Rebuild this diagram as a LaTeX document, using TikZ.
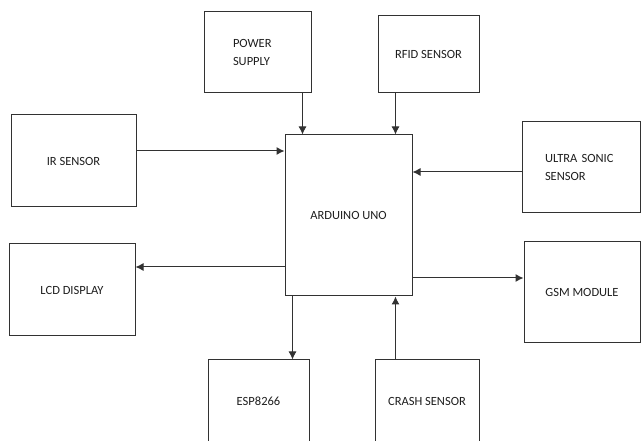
\documentclass[tikz,border=0pt]{standalone}
\usepackage{fontspec}
\setmainfont{Carlito}
\usetikzlibrary{arrows.meta}
\usepackage{xcolor}
\definecolor{bdline}{RGB}{50,50,50}
\definecolor{bdtext}{RGB}{30,30,30}

\begin{document}
\begin{tikzpicture}[x=1pt, y=-1pt, >={Latex[length=8pt,width=8pt]},
    blk/.style={draw=bdline, line width=1pt, inner sep=0pt, text=bdtext,
      font=\fontsize{12.5}{17.5}\selectfont},
    wire/.style={->, draw=bdline, line width=1pt}]
  \useasboundingbox (0,0) rectangle (641,441);
  \clip (0,0) rectangle (641,441);
  \node[blk,minimum width=107pt,minimum height=81pt,align=left,text width=49pt] (pwr) at (257.5,52.5) {POWER\\SUPPLY};
  \node[blk,minimum width=101pt,minimum height=77pt] (rfid) at (428.5,54.5) {RFID SENSOR};
  \node[blk,minimum width=125pt,minimum height=92pt] (ir) at (73.5,161) {IR SENSOR};
  \node[blk,minimum width=127pt,minimum height=161pt] (uno) at (348.5,215.5) {ARDUINO UNO};
  \node[blk,minimum width=118pt,minimum height=91pt,align=left,text width=72pt] (ultra) at (581,167.5) {ULTRA SONIC\\SENSOR};
  \node[blk,minimum width=126pt,minimum height=92pt] (lcd) at (72,290) {LCD DISPLAY};
  \node[blk,minimum width=116pt,minimum height=101pt] (gsm) at (582,292.5) {GSM MODULE};
  \node[blk,minimum width=101pt,minimum height=82pt] (esp) at (258.5,401) {ESP8266};
  \node[blk,minimum width=104pt,minimum height=82pt] (crash) at (427,401) {CRASH SENSOR};
  % inputs
  \draw[wire] ([xshift=-9pt]pwr.south east) -- ([xshift=-9pt]pwr.south east |- uno.north);
  \draw[wire] ([xshift=18pt]rfid.south west) -- ([xshift=18pt]rfid.south west |- uno.north);
  \draw[wire] ([yshift=10pt]ir.east) -- ([yshift=10pt]ir.east -| uno.west);
  \draw[wire] ([yshift=-4.5pt]ultra.west) -- ([yshift=-4.5pt]ultra.west -| uno.east);
  \draw[wire] ([xshift=-17pt]uno.south east |- crash.north) -- ([xshift=-17pt]uno.south east);
  % outputs
  \draw[wire] ([yshift=-51.5pt]uno.west) -- ([yshift=-51.5pt]uno.west -| lcd.east);
  \draw[wire] ([yshift=-62.5pt]uno.east) -- ([yshift=-62.5pt]uno.east -| gsm.west);
  \draw[wire] ([xshift=8pt]uno.south west) -- ([xshift=8pt]uno.south west |- esp.north);
\end{tikzpicture}
\end{document}
